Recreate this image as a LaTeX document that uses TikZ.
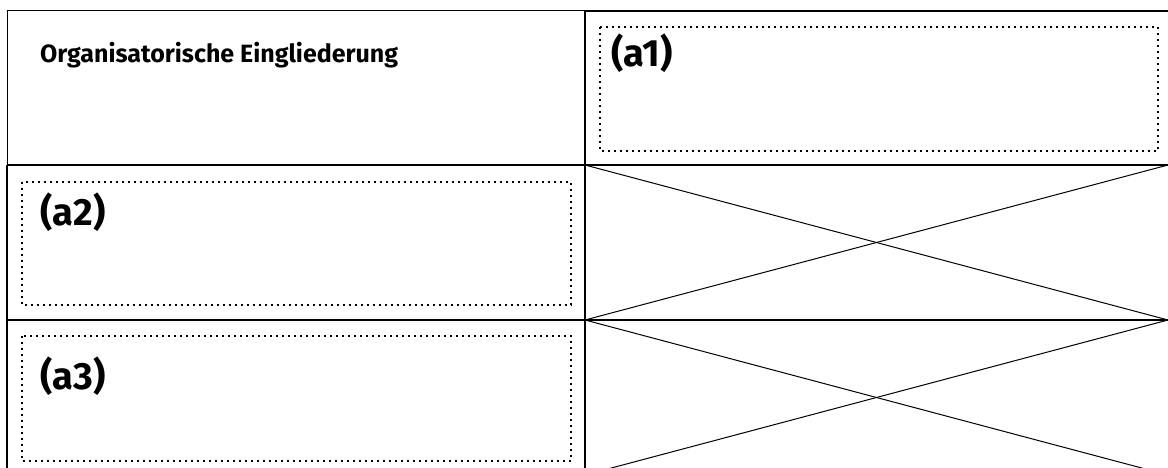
\documentclass[tikz,border=0pt]{standalone}
\usepackage{fontspec}
\setmainfont{Fira Sans}
\begin{document}
\begin{tikzpicture}[x=1pt,y=-1pt,
  thin rule/.style={line width=1pt},
  thick rule/.style={line width=2.6pt},
  mid rule/.style={line width=1.4pt},
  dotbox/.style={line width=2pt, dash pattern=on 2pt off 4pt},
  label/.style={anchor=west, inner sep=0pt, font=\fontsize{38}{42}\selectfont\bfseries},
  title/.style={anchor=base west, inner sep=0pt, font=\fontsize{25}{28}\selectfont\bfseries}]
\useasboundingbox (0,0) rectangle (1168,468);
\begin{scope}
\clip (0,0) rectangle (1168,468);
% grid coordinates
\coordinate (tl) at (7,11);
\coordinate (tm) at (585,11);
\coordinate (tr) at (1172,11);
\coordinate (l1) at (7,165);
\coordinate (m1) at (585,165);
\coordinate (r1) at (1172,165);
\coordinate (l2) at (7,320);
\coordinate (m2) at (585,320);
\coordinate (r2) at (1172,320);
\coordinate (lb) at (7,475);
\coordinate (mb) at (585,475);
\coordinate (rb) at (1172,475);
% crosses
\draw[thin rule] (585,165) -- (1168,320);
\draw[thin rule] (585,320) -- (1168,165);
\draw[thin rule] (585,320) -- (1168,475);
\draw[thin rule] (585,475) -- (1168,320);
% rules
\draw[thin rule] (tl) -- (tm);
\draw[thin rule] (tl) -- (l1);
\draw[thick rule] (l1) -- (lb);
\draw[thick rule] (tm) -- (tr);
\draw[thick rule] (tm) -- (mb);
\draw[thick rule] (l1) -- (r1);
\draw[thick rule] (l2) -- (m2);
\draw[mid rule] (m2) -- (r2);
% dotted boxes
\draw[dotbox] (600,27) rectangle (1158,151);
\draw[dotbox] (22,182) rectangle (571,305);
\draw[dotbox] (22,336) rectangle (571,461);
\end{scope}
% texts
\node[title] (t0) at (40,63) {Organisatorische Eingliederung};
\node[label] (a1) at (611,53) {(a1)};
\node[label] (a2) at (40,212) {(a2)};
\node[label] (a3) at (40,376) {(a3)};
\end{tikzpicture}
\end{document}
